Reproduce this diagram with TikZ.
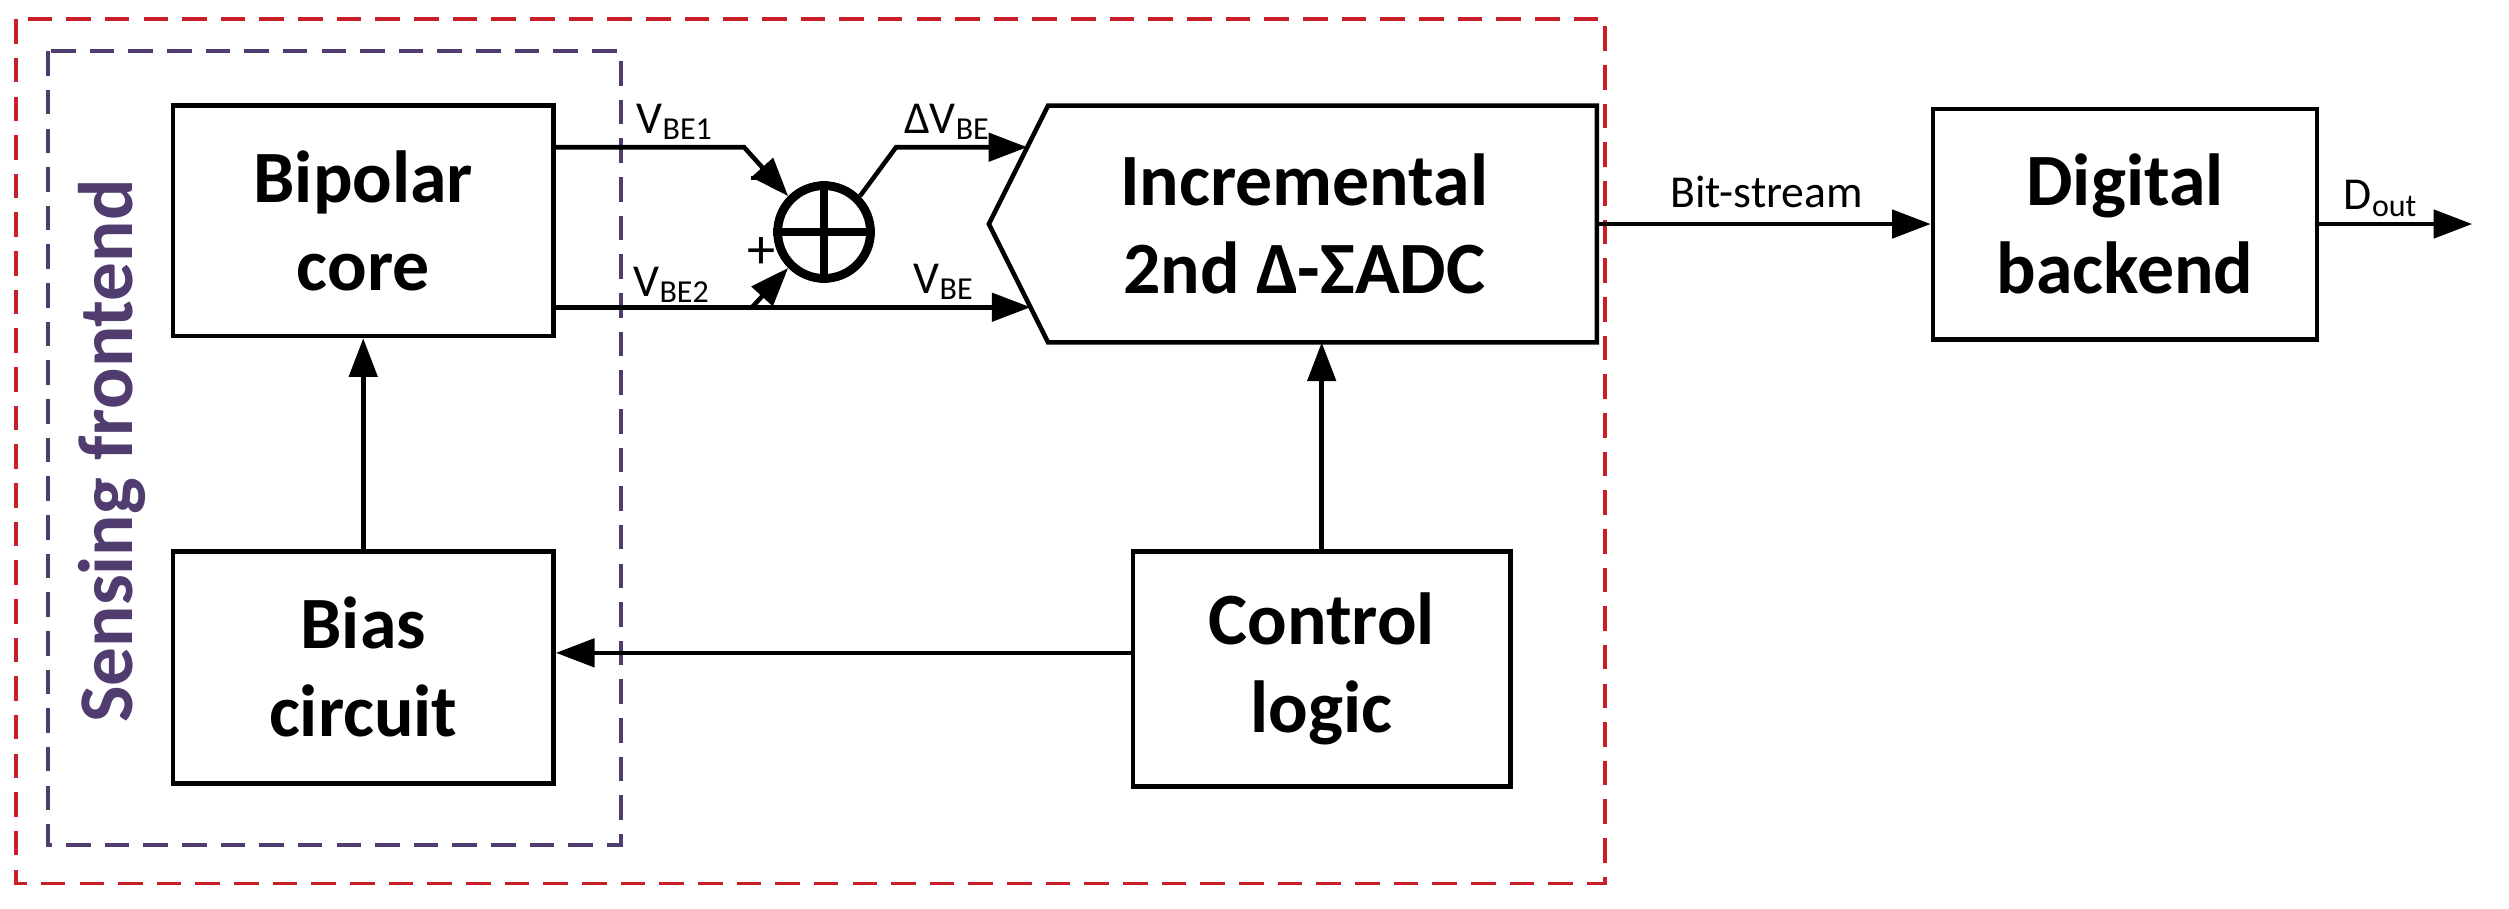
\documentclass[tikz,border=0pt]{standalone}
\usepackage{fontspec}
\setmainfont{Carlito}
\usetikzlibrary{calc,arrows.meta}
\definecolor{dred}{RGB}{200,30,40}
\definecolor{dpurple}{RGB}{80,60,110}
\tikzset{
  blk/.style={draw, line width=1.3pt, inner sep=0pt, font=\fontsize{21}{25}\selectfont\bfseries, align=center},
  lbl/.style={font=\fontsize{13}{15}\selectfont, inner sep=1pt},
  sig/.style={line width=1.3pt, -{Triangle[length=11pt,width=8pt]}},
  frame/.style={dashed, dash pattern=on 7pt off 4pt, line width=1pt},
}
\begin{document}
\begin{tikzpicture}[x=0.016cm,y=-0.016cm]
        \useasboundingbox (0,0) rectangle (1568,568);

        % Frames
        \draw [dred, frame] (10,12) rectangle (1003,552);
        \draw [dpurple, frame] (30,32) rectangle (388,528);
        \node [dpurple, rotate=90, font=\fontsize{22}{26}\selectfont\bfseries] (Sense) at (70,282) {Sensing frontend};

        % Blocks
        \node [blk, minimum width=238*0.016cm, minimum height=144*0.016cm] (Core) at (227,138) {Bipolar\\core};
        \node [blk, minimum width=238*0.016cm, minimum height=145*0.016cm] (Bias) at (227,417) {Bias\\circuit};
        \node [blk, minimum width=236*0.016cm, minimum height=147*0.016cm] (Ctrl) at (826,418) {Control\\logic};
        \node [blk, minimum width=240*0.016cm, minimum height=144*0.016cm] (Dig) at (1328,140) {Digital\\backend};

        % ADC
        \draw [line width=1.3pt] (655,66) -- (998,66) -- (998,214) -- (655,214) -- (618,140) -- cycle;
        \node [font=\fontsize{21}{25}\selectfont\bfseries, align=center] (ADC) at (815,140) {Incremental\\2nd Δ-ΣADC};
        \coordinate (ADCtop) at (642,92);
        \coordinate (ADCbot) at (644,192);
        \coordinate (ADCout) at (998,140);
        \coordinate (ADCin) at (826,214);

        % Summer
        \node [draw, circle, line width=2.5pt, minimum size=58*0.016cm, inner sep=0pt] (Sum) at (515,145) {};
        \draw [line width=2.5pt] (Sum.north) -- (Sum.south) (Sum.west) -- (Sum.east);
        \node [font=\fontsize{18}{20}\selectfont] (Minus) at (476,114) {\rule[0.3ex]{0.35em}{1.2pt}};
        \node [font=\fontsize{16}{18}\selectfont] (Plus) at (476,158) {+};

        % Connectors
        \coordinate (k1) at (465,92);
        \coordinate (k2) at (470,192);
        \coordinate (k3) at (560,92);
        \draw [sig] (Core.east |- k1) -- (k1) -- (Sum.135);
        \draw [sig] (Core.east |- k2) -- (ADCbot);
        \draw [sig] (k2) -- (Sum.225);
        \draw [sig] (Sum.45) -- (k3) -- (ADCtop);
        \draw [sig] (ADCout) -- (Dig.west);
        \coordinate (Out) at (1545,140);
        \draw [sig] (Dig.east) -- (Out);
        \draw [sig] (Bias.north) -- (Core.south);
        \draw [sig] (Ctrl.north) -- (ADCin);
        \draw [sig] (Ctrl.west |- 0,408) -- (Bias.east |- 0,408);

        % Labels
        \node [lbl] (Lvbe1) at (422,76) {V\textsubscript{BE1}};
        \node [lbl] (Lvbe2) at (420,178) {V\textsubscript{BE2}};
        \node [lbl] (Lvbe) at (590,176) {V\textsubscript{BE}};
        \node [lbl] (Ldvbe) at (592,76) {ΔV\textsubscript{BE}};
        \node [lbl] (Lbit) at (1104,120) {Bit-stream};
        \node [lbl] (Ldout) at (1488,124) {D\textsubscript{out}};
\end{tikzpicture}
\end{document}
